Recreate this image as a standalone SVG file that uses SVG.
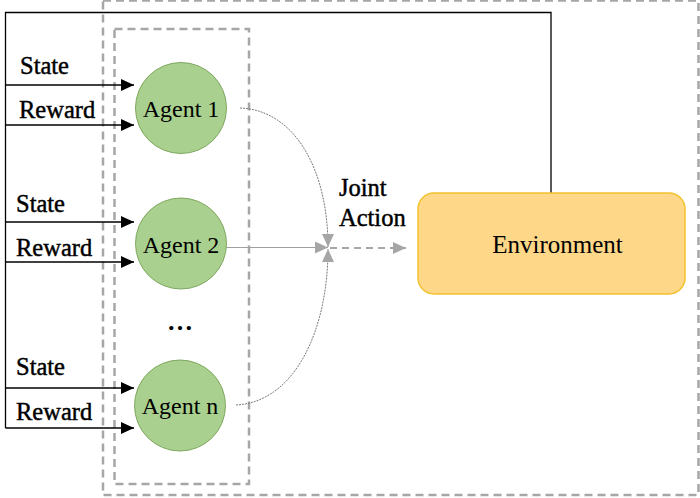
<svg xmlns="http://www.w3.org/2000/svg" width="700" height="498" viewBox="0 0 700 498">
<style>
text{font-family:'Liberation Serif','Times New Roman','DejaVu Serif',serif;fill:#000}
.lbl{font-size:24.5px;stroke:#000;stroke-width:0.45}
.node{font-size:24px}
.agent{fill:#A9D08E;stroke:#7FA860;stroke-width:1}
.dash{fill:none;stroke:#A6A6A6;stroke-width:2.5;stroke-dasharray:8,5}
.blk{fill:none;stroke:#000;stroke-width:1.3}
.gray{fill:none;stroke:#7A7A7A;stroke-width:1;stroke-dasharray:2,1}
</style>
<defs>
<marker id="ab" markerWidth="14" markerHeight="12" refX="13" refY="6" orient="auto" markerUnits="userSpaceOnUse">
<path d="M0,0 L13,6 L0,12 Z" fill="#000"/>
</marker>
<marker id="ag" markerWidth="14" markerHeight="12" refX="13" refY="6" orient="auto" markerUnits="userSpaceOnUse">
<path d="M0,0 L13,6 L0,12 Z" fill="#A6A6A6"/>
</marker>
</defs>
<rect id="outer-box" class="dash" x="103" y="0.5" width="595.5" height="494.5"/>
<rect id="agents-box" class="dash" x="114.5" y="29" width="134.5" height="455"/>
<g id="connectors">
<polyline class="blk" points="551,193 551,12.5 5.5,12.5 5.5,428"/>
<line class="blk" x1="5.5" y1="85" x2="134" y2="85" marker-end="url(#ab)"/>
<line class="blk" x1="5.5" y1="125" x2="134" y2="125" marker-end="url(#ab)"/>
<line class="blk" x1="5.5" y1="222" x2="134" y2="222" marker-end="url(#ab)"/>
<line class="blk" x1="5.5" y1="262" x2="134" y2="262" marker-end="url(#ab)"/>
<line class="blk" x1="5.5" y1="388" x2="134" y2="388" marker-end="url(#ab)"/>
<line class="blk" x1="5.5" y1="428" x2="134" y2="428" marker-end="url(#ab)"/>
<path class="gray" d="M240,108 C295,110 328,170 328,247" marker-end="url(#ag)"/>
<line x1="226" y1="247.5" x2="328" y2="247.5" stroke="#A0A0A0" stroke-width="1" marker-end="url(#ag)"/>
<path class="gray" d="M236,405 C295,402 328,330 328,249" marker-end="url(#ag)"/>
<line x1="330" y1="248" x2="406" y2="248" stroke="#A6A6A6" stroke-width="2" stroke-dasharray="7,5" marker-end="url(#ag)"/>
</g>
<g id="agent1">
<circle class="agent" cx="181" cy="108" r="45.5"/>
<text class="node" x="181" y="117" text-anchor="middle">Agent 1</text>
</g>
<g id="agent2">
<circle class="agent" cx="181" cy="243.5" r="45.5"/>
<text class="node" x="181" y="253" text-anchor="middle">Agent 2</text>
</g>
<g id="agentn">
<circle class="agent" cx="180" cy="405.5" r="45.5"/>
<text class="node" x="180" y="414" text-anchor="middle">Agent n</text>
</g>
<g id="environment">
<rect x="418" y="193" width="267" height="101" rx="16" fill="#FED888" stroke="#F2C12E" stroke-width="1.5"/>
<text x="557.5" y="253" font-size="25" text-anchor="middle">Environment</text>
</g>
<g id="labels">
<text class="lbl" x="20" y="74">State</text>
<text class="lbl" x="19" y="118">Reward</text>
<text class="lbl" x="16" y="212">State</text>
<text class="lbl" x="16" y="256">Reward</text>
<text class="lbl" x="16" y="375">State</text>
<text class="lbl" x="16" y="420">Reward</text>
<text class="lbl" x="339" y="196">Joint</text>
<text class="lbl" x="339" y="226">Action</text>
<text x="180" y="330" font-size="26" font-weight="bold" text-anchor="middle">…</text>
</g>
</svg>
